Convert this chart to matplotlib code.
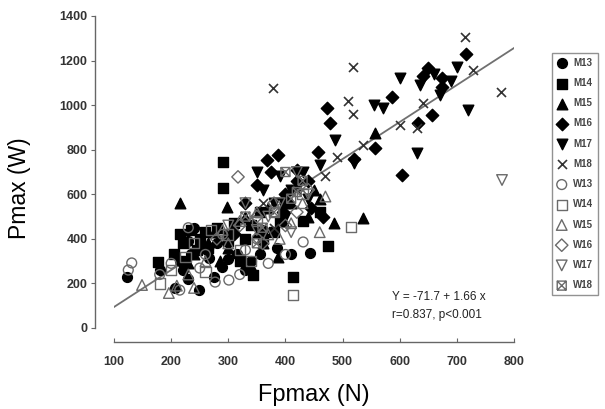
import numpy as np
import matplotlib.pyplot as plt
from matplotlib.path import Path

plt.rcParams['font.family'] = ['Liberation Sans', 'DejaVu Sans']

# Fpmax (N) / Pmax (W) per group
m13_x = [123, 180, 207, 215, 230, 249, 262, 266, 289, 300, 315, 340, 360, 385, 410, 443, 240, 275,
         220, 235, 250, 280, 300, 330, 355, 230]
m13_y = [229, 260, 179, 300, 390, 170, 350, 314, 274, 420, 330, 300, 440, 360, 330, 337, 450, 230,
         260, 330, 400, 380, 310, 260, 330, 220]
m14_x = [177, 205, 215, 220, 235, 250, 265, 291, 291, 310, 330, 343, 355, 380, 400, 413, 430, 460, 475,
         225, 245, 260, 280, 300, 320, 340, 360, 390]
m14_y = [296, 330, 420, 380, 440, 400, 360, 745, 628, 470, 400, 238, 520, 430, 560, 229, 480, 520, 368,
         300, 350, 430, 450, 390, 300, 460, 400, 480]
m15_x = [215, 298, 230, 255, 275, 300, 330, 352, 370, 395, 420, 440, 460, 485, 535, 557, 340, 387,
         240, 265, 285, 310, 360, 410, 450]
m15_y = [561, 543, 290, 380, 430, 360, 500, 430, 540, 480, 640, 500, 580, 470, 494, 875, 280, 318,
         330, 380, 300, 450, 380, 560, 620]
m16_x = [716, 650, 674, 674, 587, 473, 657, 632, 478, 557, 457, 387, 368, 604, 330, 350, 375, 400,
         420, 445, 465, 310, 520, 640, 420, 395, 440]
m16_y = [1229, 1166, 1122, 1081, 1037, 987, 956, 920, 920, 808, 790, 776, 754, 686, 560, 640, 700, 600,
         660, 540, 500, 420, 760, 1130, 710, 520, 660]
m17_x = [600, 635, 719, 670, 571, 487, 630, 460, 350, 380, 410, 440, 520, 555, 660, 690, 700, 400,
         360, 430, 390]
m17_y = [1122, 1090, 978, 1045, 987, 843, 785, 731, 700, 560, 620, 580, 740, 1000, 1140, 1110, 1170, 500,
         620, 700, 680]
m18_x = [378, 518, 714, 510, 518, 728, 777, 641, 600, 630, 536, 490, 470, 360, 420, 380]
m18_y = [1077, 1170, 1306, 1020, 960, 1158, 1059, 1010, 911, 897, 821, 767, 680, 560, 620, 450]

w13_x = [131, 125, 180, 200, 215, 250, 260, 277, 301, 320, 330, 350, 370, 400, 431, 230, 290]
w13_y = [292, 260, 240, 290, 170, 269, 330, 206, 215, 240, 350, 400, 290, 330, 386, 450, 420]
w14_x = [180, 200, 225, 240, 270, 300, 320, 350, 380, 413, 515, 430, 260, 340]
w14_y = [200, 260, 320, 380, 440, 420, 350, 480, 520, 148, 453, 600, 250, 300]
w15_x = [149, 196, 210, 230, 260, 290, 320, 350, 370, 390, 410, 430, 460, 240, 300, 470]
w15_y = [193, 157, 190, 240, 300, 440, 480, 520, 420, 400, 470, 560, 430, 180, 380, 590]
w16_x = [317, 280, 320, 350, 380, 400, 420, 440, 360]
w16_y = [678, 400, 460, 500, 560, 460, 520, 620, 380]
w17_x = [779, 330, 350, 370, 390, 410, 440, 300, 420]
w17_y = [664, 560, 440, 500, 560, 430, 600, 460, 700]
w18_x = [330, 360, 380, 410, 430, 420, 350, 400]
w18_y = [500, 450, 520, 580, 660, 610, 380, 700]

# regression Y = -71.7 + 1.66 x
intercept = -71.7
slope = 1.66
line_x = np.array([100, 805])

# boxed cross marker for W18
boxx = Path([(-1, -1), (1, -1), (1, 1), (-1, 1), (-1, -1), (-1, -1), (1, 1), (-1, 1), (1, -1)],
            [Path.MOVETO, Path.LINETO, Path.LINETO, Path.LINETO, Path.LINETO,
             Path.MOVETO, Path.LINETO, Path.MOVETO, Path.LINETO])

grey = '#6a6a6a'
groups = [
    ('M13', m13_x, m13_y, 'o', 'black', 'black', 50),
    ('M14', m14_x, m14_y, 's', 'black', 'black', 55),
    ('M15', m15_x, m15_y, '^', 'black', 'black', 58),
    ('M16', m16_x, m16_y, 'D', 'black', 'black', 40),
    ('M17', m17_x, m17_y, 'v', 'black', 'black', 58),
    ('M18', m18_x, m18_y, 'x', grey, 'black', 42),
    ('W13', w13_x, w13_y, 'o', 'none', grey, 50),
    ('W14', w14_x, w14_y, 's', 'none', grey, 55),
    ('W15', w15_x, w15_y, '^', 'none', grey, 58),
    ('W16', w16_x, w16_y, 'D', 'none', grey, 40),
    ('W17', w17_x, w17_y, 'v', 'none', grey, 58),
    ('W18', w18_x, w18_y, boxx, 'none', grey, 42),
]

fig = plt.figure(figsize=(6.05, 4.09), dpi=100)
ax = fig.add_axes([114 / 605, 1 - 328 / 409, 400 / 605, 312 / 409])

handles = []
for name, xs, ys, mk, fc, ec, s in groups:
    if mk == 'x':
        h = ax.scatter(xs, ys, marker=mk, s=s, c='#333333', linewidths=1.2, label=name, zorder=3)
    else:
        h = ax.scatter(xs, ys, marker=mk, s=s, facecolors=fc, edgecolors=ec, linewidths=1.0,
                       label=name, zorder=3)
    handles.append(h)

ax.plot(line_x, intercept + slope * line_x, color='#707070', lw=1.3, zorder=2)

ax.set_xlim(100, 800)
ax.set_ylim(0, 1400)
ax.set_xticks(range(100, 801, 100))
ax.set_yticks(range(0, 1401, 200))
for sp in ['top', 'right']:
    ax.spines[sp].set_visible(False)
ax.spines['left'].set_position(('outward', 14))
ax.spines['bottom'].set_position(('outward', 10))
for sp in ['left', 'bottom']:
    ax.spines[sp].set_color('#666666')
    ax.spines[sp].set_linewidth(1.0)
ax.tick_params(axis='y', direction='out', length=3, pad=2, labelsize=9, colors='#666666',
               labelcolor='#333333')
ax.tick_params(axis='x', direction='in', length=3, pad=10, labelsize=9, colors='#666666',
               labelcolor='#333333')
for lbl in ax.get_xticklabels() + ax.get_yticklabels():
    lbl.set_fontweight('bold')

fig.text(20 / 605, 1 - 188 / 409, 'Pmax (W)', rotation=90, fontsize=16.5, ha='center', va='center')
fig.text(314 / 605, 1 - 395 / 409, 'Fpmax (N)', fontsize=17, ha='center', va='center')

ax.text(392 / 605, 1 - 297 / 409, 'Y = -71.7 + 1.66 x', transform=fig.transFigure,
        fontsize=8.5, ha='left', va='center', color='#222222')
ax.text(392 / 605, 1 - 315 / 409, 'r=0.837, p<0.001', transform=fig.transFigure,
        fontsize=8.5, ha='left', va='center', color='#222222')

leg = fig.legend(handles=handles, loc='upper left', bbox_to_anchor=(552 / 605, 1 - 53 / 409),
                 fontsize=7, frameon=True, fancybox=False, labelspacing=1.05, handlelength=1.0,
                 handletextpad=0.7, borderpad=0.5, borderaxespad=0, scatterpoints=1)
leg.get_frame().set_edgecolor('#777777')
leg.get_frame().set_linewidth(1.0)
for t in leg.get_texts():
    t.set_fontweight('bold')
    t.set_color('#444444')

fig.savefig('out.png', dpi=100)
